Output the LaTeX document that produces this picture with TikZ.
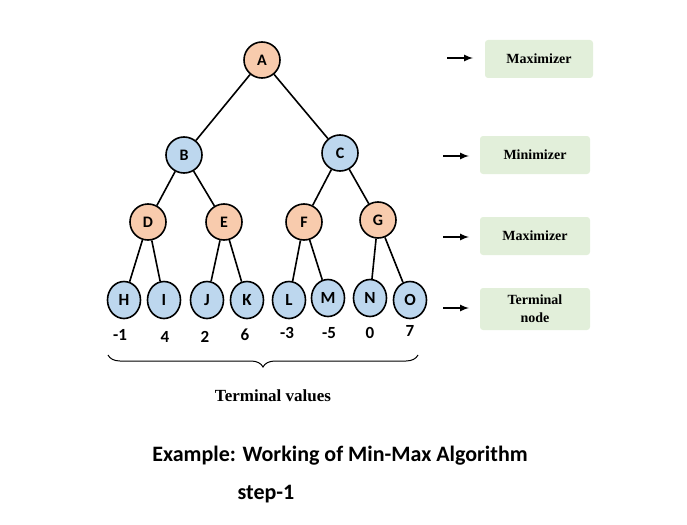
\documentclass[tikz,border=0pt]{standalone}
\usepackage{fontspec}
\setmainfont{Carlito}
\newfontfamily\boxfont{Liberation Serif}
\usetikzlibrary{decorations.pathreplacing, shapes.geometric}
\definecolor{maxcol}{HTML}{F8CBAD}
\definecolor{mincol}{HTML}{BDD7EE}
\definecolor{labcol}{HTML}{E2EFDA}
\begin{document}
\begin{tikzpicture}[x=1pt, y=-1pt, line width = 1.6pt,
                        maxnode/.style = {circle, draw, fill = maxcol, minimum size = 36pt, inner sep = 0pt, font = \bfseries\fontsize{16}{18}\selectfont},
                        minnode/.style = {circle, draw, fill = mincol, minimum size = 36pt, inner sep = 0pt, font = \bfseries\fontsize{16}{18}\selectfont},
                        leaf/.style = {ellipse, draw, fill = mincol, minimum width = 33pt, minimum height = 37pt, inner sep = 0pt, font = \bfseries\fontsize{17}{19}\selectfont},
                        val/.style = {font = \bfseries\fontsize{17}{19}\selectfont},
                        tag/.style = {draw = none, fill = labcol, rounded corners = 3pt, minimum width = 110pt, minimum height = 38pt, align = center, font = \boxfont\bfseries\fontsize{14}{18}\selectfont}]
      \useasboundingbox (0, 0) rectangle (687, 524);
      \node [maxnode] (A) at (262, 60){A};
      \node [minnode] (B) at (184, 155){B};
      \node [minnode] (C) at (340, 153){C};
      \node [maxnode] (D) at (148, 222){D};
      \node [maxnode] (E) at (224, 222){E};
      \node [maxnode] (F) at (304, 222){F};
      \node [maxnode] (G) at (378, 220){G};
      \node [leaf] (H) at (124, 300){H};
      \node [leaf] (I) at (164, 300){I};
      \node [leaf] (J) at (207, 300){J};
      \node [leaf] (K) at (247, 300){K};
      \node [leaf] (L) at (289, 300){L};
      \node [leaf] (M) at (328, 298){M};
      \node [leaf] (N) at (370, 298){N};
      \node [leaf] (O) at (410, 300){O};
      \node [val] (vH) at (120, 335){-1};
      \node [val] (vI) at (165, 337){4};
      \node [val] (vJ) at (205, 337){2};
      \node [val] (vK) at (245, 335){6};
      \node [val] (vL) at (287, 333){-3};
      \node [val] (vM) at (329, 333){-5};
      \node [val] (vN) at (370, 333){0};
      \node [val] (vO) at (410, 331){7};
      \draw (A) -- (B); \draw (A) -- (C);
      \draw (B) -- (D); \draw (B) -- (E);
      \draw (C) -- (F); \draw (C) -- (G);
      \draw (D) -- (H); \draw (D) -- (I);
      \draw (E) -- (J); \draw (E) -- (K);
      \draw (F) -- (L); \draw (F) -- (M);
      \draw (G) -- (N); \draw (G) -- (O);
      \coordinate (bl) at (108, 355);
      \coordinate (br) at (418, 355);
      \draw [line width = 1pt, decorate, decoration = {brace, amplitude = 12pt}] (br) -- (bl);
      \node [font = \boxfont\bfseries\fontsize{17}{20}\selectfont] (tv) at (273, 396){Terminal values};
      \node [tag, minimum width = 108pt] (t1) at (539, 59){Maximizer};
      \node [tag] (t2) at (535, 155){Minimizer};
      \node [tag] (t3) at (535, 236){Maximizer};
      \node [tag, minimum height = 42pt] (t4) at (535, 309){Terminal\\node};
      \coordinate (a1) at (447, 58);  \coordinate (a2) at (443, 156);
      \coordinate (a3) at (443, 237); \coordinate (a4) at (443, 308);
      \draw [-latex, line width = 2pt] (a1) -- ++(26, 0);
      \draw [-latex, line width = 2pt] (a2) -- ++(26, 0);
      \draw [-latex, line width = 2pt] (a3) -- ++(26, 0);
      \draw [-latex, line width = 2pt] (a4) -- ++(26, 0);
      \node [font = \bfseries\fontsize{22}{26}\selectfont] (title) at (340, 456){Example: Working of Min-Max Algorithm};
      \node [font = \bfseries\fontsize{22}{26}\selectfont] (step) at (266, 494){step-1};
\end{tikzpicture}
\end{document}
